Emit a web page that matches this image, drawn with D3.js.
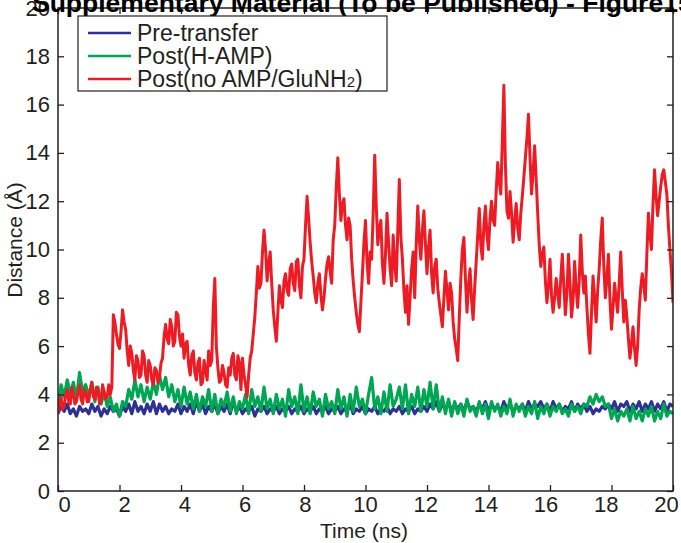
<!DOCTYPE html>
<html>
<head>
<meta charset="utf-8">
<script src="https://cdn.jsdelivr.net/npm/d3@7"></script>
<style>
html,body{margin:0;padding:0;background:#fff;}
svg{display:block;}
text{font-family:"Liberation Sans",Arial,sans-serif;fill:#231f20;}
</style>
</head>
<body>
<svg id="chart" width="681" height="543"></svg>
<script>
// ---- data ----
const timeStart = 0;
const stepBlueGreen = 0.1;   // ns between samples for the two flat traces
const stepRed = 0.05;        // ns between samples for the red trace
const xTicks = [0,2,4,6,8,10,12,14,16,18,20];
const yTicks = [0,2,4,6,8,10,12,14,16,18,20];
const seriesNames = ["Pre-transfer","Post(H-AMP)","Post(no AMP/GluNH2)"];
const seriesColors = ["#2e3192","#00a651","#ed1c24"];

const preTransfer = [
 3.2,3.5,3.3,3.6,3.2,3.4,3.1,3.5,3.3,3.4,
 3.2,3.6,3.3,3.5,3.1,3.4,3.2,3.5,3.3,3.4,
 3.1,3.5,3.3,3.6,3.2,3.7,3.3,3.5,3.2,3.6,
 3.3,3.7,3.2,3.6,3.3,3.5,3.2,3.4,3.3,3.6,
 3.2,3.5,3.3,3.6,3.2,3.7,3.3,3.6,3.2,3.5,
 3.3,3.6,3.2,3.5,3.3,3.6,3.2,3.7,3.3,3.5,
 3.2,3.4,3.3,3.5,3.1,3.4,3.3,3.5,3.2,3.4,
 3.3,3.5,3.2,3.4,3.3,3.5,3.2,3.4,3.3,3.5,
 3.2,3.4,3.3,3.5,3.2,3.4,3.3,3.5,3.2,3.4,
 3.3,3.5,3.2,3.4,3.3,3.6,3.2,3.4,3.3,3.5,
 3.2,3.4,3.3,3.5,3.2,3.4,3.3,3.5,3.2,3.4,
 3.3,3.5,3.2,3.4,3.3,3.5,3.2,3.4,3.3,3.5,
 3.3,3.6,3.4,3.7,3.3,3.6,3.4,3.7,3.3,3.6,
 3.4,3.6,3.3,3.7,3.4,3.5,3.3,3.6,3.4,3.7,
 3.3,3.6,3.4,3.5,3.3,3.7,3.4,3.6,3.3,3.5,
 3.4,3.6,3.3,3.7,3.4,3.6,3.5,3.7,3.4,3.6,
 3.3,3.7,3.4,3.6,3.3,3.5,3.4,3.7,3.3,3.6,
 3.4,3.6,3.3,3.5,3.2,3.4,3.3,3.5,3.4,3.6,
 3.4,3.7,3.3,3.6,3.5,3.7,3.3,3.6,3.4,3.7,
 3.3,3.6,3.4,3.7,3.3,3.6,3.4,3.7,3.3,3.6,
 3.5
];

const postHAMP = [
 3.4,4.4,3.9,4.6,4.0,4.5,3.8,4.9,4.1,4.4,
 3.9,4.5,3.7,4.3,3.6,4.1,3.5,3.9,3.3,3.6,
 3.1,3.7,3.5,4.2,3.8,4.6,3.9,4.4,3.7,4.3,
 3.8,4.5,4.0,4.8,4.2,4.7,3.9,4.4,3.7,4.2,
 3.5,4.3,3.6,4.1,3.4,4.0,3.3,3.9,3.5,4.2,
 3.3,4.0,3.2,3.8,3.5,4.1,3.3,3.9,3.2,3.7,
 3.4,4.0,3.2,4.2,3.5,3.9,3.3,4.3,3.4,3.8,
 3.2,4.0,3.4,3.8,3.1,4.2,3.5,3.9,3.2,4.4,
 3.3,3.9,3.2,4.1,3.5,3.8,3.1,4.0,3.4,3.7,
 3.2,4.2,3.4,3.9,3.1,4.0,3.3,4.3,3.5,3.8,
 3.2,4.0,4.7,3.4,3.9,3.2,4.1,3.3,4.4,3.5,
 3.8,4.3,3.4,4.4,3.2,4.0,3.5,4.3,3.3,4.2,
 3.5,4.5,3.4,4.4,3.3,3.9,3.2,3.8,3.1,3.7,
 3.2,3.6,3.1,3.8,3.3,3.5,3.1,3.7,3.2,3.6,
 3.0,3.7,3.3,3.6,3.1,3.5,3.2,3.8,3.1,3.6,
 3.3,3.6,3.1,3.5,3.2,3.7,3.0,3.5,3.2,3.6,
 3.1,3.5,3.3,3.6,3.2,3.4,3.1,3.6,3.3,3.5,
 3.2,3.6,3.5,3.9,3.6,4.0,3.7,3.9,3.5,3.6,
 3.0,3.4,2.9,3.3,3.1,3.4,2.9,3.5,3.0,3.3,
 2.9,3.4,3.1,3.5,2.9,3.3,3.0,3.6,3.1,3.3,
 3.2
];

const postNoAMP = [
 3.2,3.6,3.9,3.4,3.5,4.0,4.2,3.7,3.6,4.3,4.0,3.6,3.7,4.1,4.4,3.8,3.6,4.2,4.1,3.7,
 3.7,4.2,4.5,3.9,3.8,4.3,4.2,3.6,3.7,4.4,4.1,3.8,3.9,4.4,4.0,4.3,7.3,7.0,6.5,6.1,
 5.9,6.6,7.5,7.0,6.7,5.8,5.2,6.0,5.7,5.0,4.6,5.6,5.4,4.7,4.8,5.8,5.6,4.8,4.5,5.4,
 5.2,4.6,4.4,5.1,5.0,4.5,4.7,5.3,5.5,6.4,6.9,6.3,6.1,7.1,6.8,6.0,6.2,7.4,7.3,6.4,
 6.0,6.5,5.5,6.1,6.2,5.2,4.8,5.6,5.8,4.9,4.6,5.3,5.5,4.4,4.5,5.4,5.0,4.6,5.8,5.2,
 5.4,7.6,8.8,6.0,5.1,4.5,4.6,5.2,4.9,4.4,4.3,5.1,4.8,5.5,5.7,4.8,4.6,5.6,5.3,4.2,
 5.5,4.8,4.4,3.9,4.8,5.5,5.8,6.5,7.2,8.2,9.3,8.4,8.6,9.9,10.8,10.0,8.7,9.4,9.9,8.6,
 7.5,6.8,6.2,7.4,8.5,7.9,7.6,8.7,9.0,8.3,8.1,9.2,9.4,8.6,8.3,9.5,9.6,8.5,8.0,9.3,
 9.6,11.0,12.2,11.3,10.3,9.5,8.9,8.2,7.8,8.6,9.0,8.1,7.5,8.0,8.8,9.4,9.7,9.1,8.6,10.4,
 11.0,12.6,13.8,12.3,11.2,11.9,12.1,11.0,10.4,11.3,11.0,9.6,8.7,8.0,7.4,6.9,6.6,7.8,9.0,10.3,
 11.2,9.5,8.6,9.9,9.6,11.5,13.9,11.8,10.2,10.9,11.2,9.4,8.6,9.8,11.5,10.3,9.2,8.5,10.6,9.4,
 8.7,10.8,12.9,10.5,9.6,8.3,7.4,8.5,6.9,8.0,9.2,9.9,8.0,10.2,11.8,10.4,9.6,10.8,11.6,10.2,
 9.0,10.1,10.8,9.0,8.2,9.3,9.6,8.4,7.8,7.3,6.8,8.0,9.1,8.3,7.5,8.6,8.2,7.0,6.3,5.9,
 5.4,7.2,8.8,10.0,10.5,8.8,7.4,8.5,9.2,7.9,7.1,8.4,9.5,10.6,11.7,10.2,9.6,11.0,11.8,10.6,
 10.0,11.3,12.0,11.2,11.0,12.4,13.6,12.8,12.3,14.5,16.8,13.5,11.6,11.3,12.4,11.5,10.3,11.2,11.9,10.9,
 10.4,11.5,12.2,13.0,13.8,14.6,15.6,13.8,12.3,13.2,14.3,12.9,11.5,10.2,9.3,9.8,10.1,8.7,7.8,8.5,
 9.6,8.1,7.4,8.0,8.8,8.2,7.6,8.8,9.8,8.5,7.3,8.2,9.8,8.6,7.2,7.9,9.5,8.4,7.6,8.7,
 10.6,9.1,8.2,8.9,7.6,6.5,5.7,7.4,8.9,8.0,7.0,8.3,9.2,10.4,11.3,9.3,8.0,8.8,9.8,7.9,
 6.7,7.6,8.6,8.0,7.4,8.6,9.9,8.3,7.0,7.9,7.2,6.3,5.5,6.1,6.8,5.9,5.2,6.0,7.5,8.4,
 9.0,8.5,7.9,9.8,11.5,10.6,10.0,11.9,13.3,12.2,11.4,12.0,12.6,13.1,13.3,12.8,12.3,11.0,10.0,9.1,
 7.8
];

// ---- layout ----
const mLeft = 58, mRight = 673, mTop = 8, mBottom = 491;
const svg = d3.select("#chart");

const x = d3.scaleLinear().domain([0,20]).range([mLeft,mRight]);
const y = d3.scaleLinear().domain([0,20]).range([mBottom,mTop]);
// tick labels of the x axis sit slightly inside the tick marks in the reference
const xLabel = d3.scaleLinear().domain([0,20]).range([64,666]);

svg.append("defs").append("clipPath").attr("id","clip")
  .append("rect").attr("x",mLeft).attr("y",mTop).attr("width",mRight-mLeft).attr("height",mBottom-mTop);

const allSeries = [
  {values: preTransfer, step: stepBlueGreen, width: 3.2},
  {values: postHAMP,   step: stepBlueGreen, width: 3.2},
  {values: postNoAMP,  step: stepRed,       width: 3.0}
];

const plot = svg.append("g").attr("clip-path","url(#clip)");
allSeries.forEach((s,k)=>{
  const line = d3.line().x((d,i)=>x(timeStart + i*s.step)).y(d=>y(d));
  plot.append("path").datum(s.values)
    .attr("d",line)
    .attr("fill","none")
    .attr("stroke",seriesColors[k])
    .attr("stroke-width",s.width)
    .attr("stroke-linejoin","round");
});

// ---- axes (ticks inward, mirrored) ----
const tickLen = 6;
const fontAx = 22;
const axB = svg.append("g").attr("transform",`translate(0,${mBottom})`)
  .call(d3.axisBottom(x).tickValues(xTicks).tickSize(-tickLen).tickFormat(""));
const axBL = svg.append("g").attr("transform",`translate(0,${mBottom})`)
  .call(d3.axisBottom(xLabel).tickValues(xTicks).tickSize(0).tickPadding(5).tickFormat(d3.format("d")));
const axT = svg.append("g").attr("transform",`translate(0,${mTop})`)
  .call(d3.axisTop(x).tickValues(xTicks).tickSize(-tickLen).tickFormat(""));
const axL = svg.append("g").attr("transform",`translate(${mLeft},0)`)
  .call(d3.axisLeft(y).tickValues(yTicks).tickSize(-tickLen).tickPadding(8).tickFormat(d3.format("d")));
const axR = svg.append("g").attr("transform",`translate(${mRight},0)`)
  .call(d3.axisRight(y).tickValues(yTicks).tickSize(-tickLen).tickFormat(""));
[axB,axBL,axT,axL,axR].forEach(a=>{
  a.select(".domain").remove();
  a.selectAll(".tick line").attr("stroke","#231f20").attr("stroke-width",1.3);
  a.selectAll(".tick text").attr("font-size",fontAx).attr("fill","#231f20")
    .style("font-family","'Liberation Sans',Arial,sans-serif");
});
axBL.selectAll(".tick line").remove();
axBL.selectAll(".tick text").attr("dy","0.71em");

// frame
svg.append("rect").attr("x",mLeft).attr("y",mTop).attr("width",mRight-mLeft).attr("height",mBottom-mTop)
  .attr("fill","none").attr("stroke","#231f20").attr("stroke-width",1.5);

// axis titles
svg.append("text").attr("x",364).attr("y",538).attr("text-anchor","middle")
  .attr("font-size",21).text("Time (ns)");
svg.append("text").attr("transform","translate(22,240) rotate(-90)").attr("text-anchor","middle")
  .attr("font-size",21).text("Distance (Å)");

// title (partly cut off at top, as in reference)
svg.append("text").attr("x",32).attr("y",12).attr("font-size",26.5).attr("font-weight","bold")
  .style("fill","#000")
  .text("Supplementary Material (To be Published) - Figure15");

// legend
const lg = svg.append("g");
lg.append("rect").attr("x",78).attr("y",16).attr("width",309).attr("height",75)
  .attr("fill","#fff").attr("stroke","#231f20").attr("stroke-width",1.2);
seriesNames.forEach((n,k)=>{
  const yy = 33 + k*23;
  lg.append("line").attr("x1",88).attr("x2",131).attr("y1",yy).attr("y2",yy)
    .attr("stroke",seriesColors[k]).attr("stroke-width",2.6);
  const t = lg.append("text").attr("x",137).attr("y",yy+8).attr("font-size",23);
  if (n.endsWith("NH2)")) {
    t.append("tspan").text("Post(no AMP/GluNH");
    t.append("tspan").attr("font-size",15).text("2");
    t.append("tspan").text(")");
  } else {
    t.text(n);
  }
});
</script>
</body>
</html>
